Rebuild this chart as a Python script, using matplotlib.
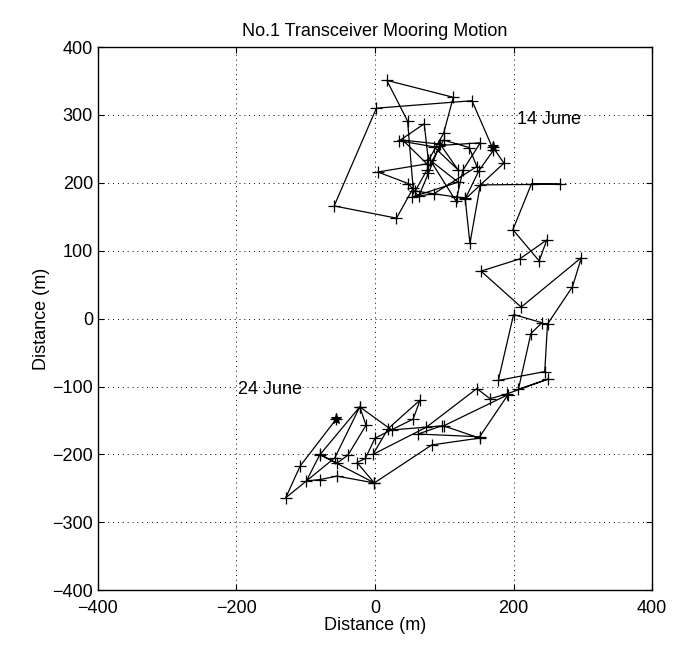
import matplotlib.pyplot as plt
import numpy as np

plt.rcParams['font.family'] = ['Liberation Sans', 'DejaVu Sans']

# Mooring position track (m), 14 June -> 24 June
east = [170, 186, 130, 150, 171, 140, 2, -59, 31, 55, 47, 17, 113, 99, 77, 71,
        35, 85, 120, 94, 40, 75, 4, 48, 63, 77, 93, 152, 127, 117, 80, 120,
        53, 85, 147, 136, 99, 75, 58, 118, 130, 137, 152, 267, 226, 199, 237,
        248, 209, 153, 211, 298, 285, 249, 245, 178, 200, 241, 225, 207, 250,
        190, 166, 147, 74, -3, 19, 65, 55, 0, -14, -26, -1, 82, 151, 99, 192,
        151, 62, 96, 24, -22, -13, -39, -55, -80, -1, -55, -79, -99, -80, -22,
        -58, -129, -108, -56]
north = [253, 229, 176, 218, 248, 321, 310, 166, 148, 192, 291, 351, 326, 273,
         233, 287, 262, 253, 219, 257, 263, 228, 216, 199, 180, 214, 255, 259,
         219, 173, 233, 201, 179, 184, 224, 252, 263, 219, 188, 179, 178, 111,
         197, 198, 199, 131, 85, 116, 88, 70, 17, 90, 47, -8, -78, -91, 6, -6,
         -22, -104, -89, -111, -118, -103, -160, -200, -162, -120, -148, -176,
         -206, -212, -242, -186, -176, -158, -112, -174, -170, -158, -164, -130,
         -157, -201, -213, -200, -242, -232, -237, -239, -201, -130, -205, -264,
         -217, -148]

x_ticks = [-400, -200, 0, 200, 400]
y_ticks = [-400, -300, -200, -100, 0, 100, 200, 300, 400]

fig = plt.figure(figsize=(6.8, 6.45), dpi=100)
ax = fig.add_axes([0.144, 0.085, 0.815, 0.842])

ax.plot(east, north, color='black', lw=0.9, marker='+', ms=8, mew=0.9)
ax.plot(east[0], north[0], color='black', marker='*', ms=8, mew=0.8)
ax.plot(east[-1], north[-1], color='black', marker='*', ms=8, mew=0.8)

ax.text(205, 293, '14 June', fontsize=13, va='center')
ax.text(-198, -104, '24 June', fontsize=13, va='center')

ax.set_xlim(-400, 400)
ax.set_ylim(-400, 400)
ax.set_xticks(x_ticks)
ax.set_yticks(y_ticks)
ax.grid(True, color='black', linestyle=(0, (1, 4)), lw=0.7)
ax.tick_params(direction='in', top=True, right=True, labelsize=13, length=4)
ax.tick_params(axis='x', pad=7)
for s in ax.spines.values():
    s.set_linewidth(1.0)

ax.set_title('No.1 Transceiver Mooring Motion', fontsize=13, pad=8)
ax.set_xlabel('Distance (m)', fontsize=13, labelpad=0)
ax.set_ylabel('Distance (m)', fontsize=13, labelpad=2)

fig.savefig('out.png', dpi=100)
